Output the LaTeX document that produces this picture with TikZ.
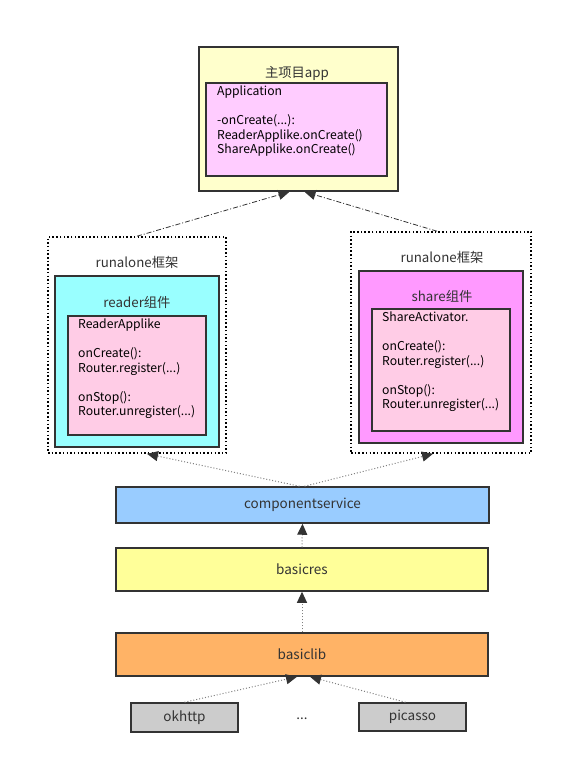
\documentclass[tikz,border=0pt]{standalone}
\usepackage{fontspec}
\setmainfont{Noto Sans CJK SC}
\usetikzlibrary{arrows.meta}
\definecolor{edge}{HTML}{333333}
\definecolor{appfill}{HTML}{FFFFCC}
\definecolor{appin}{HTML}{FFCCFF}
\definecolor{cyanfill}{HTML}{99FFFF}
\definecolor{pinkfill}{HTML}{FFCCE6}
\definecolor{magfill}{HTML}{FF99FF}
\definecolor{servfill}{HTML}{99CCFF}
\definecolor{resfill}{HTML}{FFFF99}
\definecolor{libfill}{HTML}{FFB366}
\definecolor{extfill}{HTML}{CCCCCC}
\tikzset{
  box/.style={draw=edge, line width=1.5pt, inner sep=0pt, text=edge,
    font=\fontsize{13.5}{15}\selectfont},
  frame/.style={draw=black, line width=1.6pt, dash pattern=on 1.5pt off 2.2pt,
    inner sep=0pt},
  title/.style={text=edge, inner sep=0pt, font=\fontsize{13.3}{15}\selectfont},
  txt/.style={text=black, align=left, anchor=north west, inner sep=0pt,
    font=\fontsize{12.2}{14.5}\selectfont},
  dep/.style={draw=gray, line width=1pt, dotted,
    -{Triangle[length=11pt,width=10pt,color=edge]}},
  run/.style={draw=edge, line width=0.8pt, dash pattern=on 5pt off 2pt on 1pt off 2pt,
    -{Triangle[length=11pt,width=10pt,color=edge]}},
}
\begin{document}
\begin{tikzpicture}[x=1pt,y=-1pt]
\useasboundingbox (0,0) rectangle (563,763);
\node[box, fill=appfill, minimum width=199pt, minimum height=144pt] (app) at (298.5,119) {};
\node[title] (apptitle) at (297,73) {主项目app};
\node[box, fill=appin, minimum width=181pt, minimum height=93pt] (application) at (296.5,129.5) {};
\node[txt] (applicationtext) at (217,86) {Application\\[14.5pt]-onCreate(...):\\ReaderApplike.onCreate()\\ShareApplike.onCreate()};

\node[frame, minimum width=178pt, minimum height=216pt] (runleft) at (137,345) {};
\node[title] (runlefttitle) at (137,262) {runalone框架};
\node[box, fill=cyanfill, minimum width=164pt, minimum height=171pt] (reader) at (137,361.5) {};
\node[title] (readertitle) at (137,302) {reader组件};
\node[box, fill=pinkfill, minimum width=138pt, minimum height=119pt] (readerapp) at (137,375.5) {};
\node[txt] (readertext) at (78,319) {ReaderApplike\\[14.5pt]onCreate():\\Router.register(...)\\[14.5pt]onStop():\\Router.unregister(...)};

\node[frame, minimum width=180pt, minimum height=221pt] (runright) at (441,342.5) {};
\node[title] (runrighttitle) at (442,257) {runalone框架};
\node[box, fill=magfill, minimum width=164pt, minimum height=172pt] (share) at (441,357) {};
\node[title] (sharetitle) at (442,296) {share组件};
\node[box, fill=pinkfill, minimum width=138pt, minimum height=122pt] (shareapp) at (441,370) {};
\node[txt] (sharetext) at (382,312) {ShareActivator.\\[14.5pt]onCreate():\\Router.register(...)\\[14.5pt]onStop():\\Router.unregister(...)};

\node[box, fill=servfill, minimum width=373pt, minimum height=36pt] (service) at (302.5,505) {componentservice};
\node[box, fill=resfill, minimum width=372pt, minimum height=43pt] (basicres) at (302,569.5) {basicres};
\node[box, fill=libfill, minimum width=372pt, minimum height=43pt] (basiclib) at (302,654.5) {basiclib};
\node[box, fill=extfill, minimum width=107pt, minimum height=29pt] (okhttp) at (184.5,717.5) {okhttp};
\node[box, fill=extfill, minimum width=107pt, minimum height=28pt] (picasso) at (412.5,717) {picasso};
\node[title] (more) at (302,719) {...};

\draw[dep] (okhttp.north) -- ([xshift=-5pt]basiclib.south);
\draw[dep] ([xshift=-7pt]picasso.north) -- ([xshift=8pt]basiclib.south);
\draw[dep] (basiclib.north) -- (basicres.south);
\draw[dep] (basicres.north) -- (service.south);
\draw[dep] ([xshift=-3pt]service.north) -- ([xshift=10pt]runleft.south);
\draw[dep] ([xshift=2pt]service.north) -- ([xshift=-8pt]runright.south);
\draw[run] (runleft.north) -- ([xshift=-9pt]app.south);
\draw[run] ([xshift=-4pt]runright.north) -- ([xshift=6pt]app.south);
\end{tikzpicture}
\end{document}
